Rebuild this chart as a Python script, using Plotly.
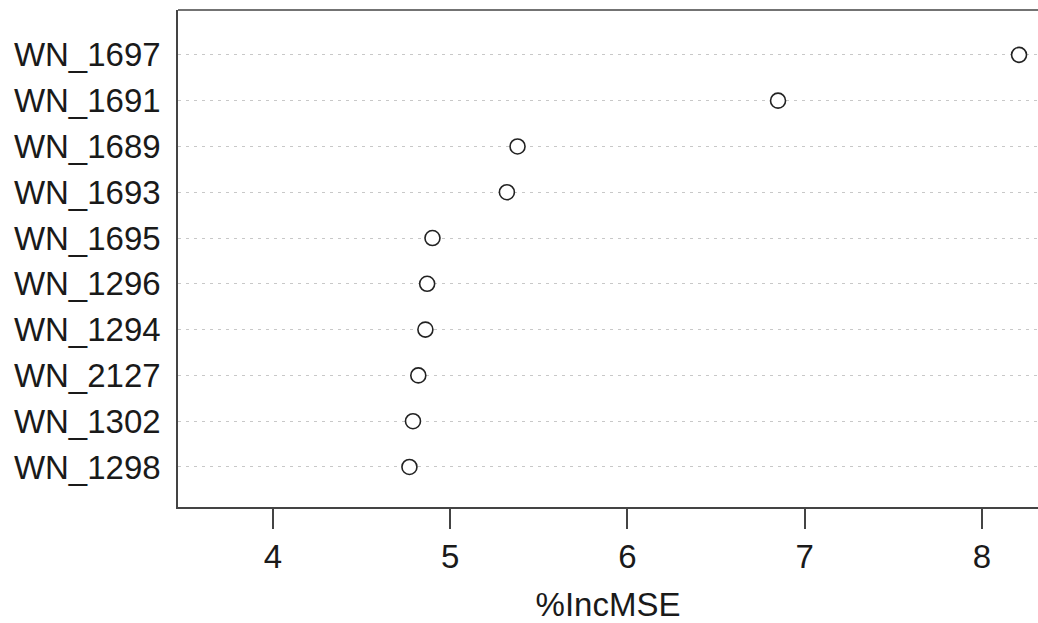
import plotly.graph_objects as go

# Data (top to bottom in the chart)
variables = ["WN_1697", "WN_1691", "WN_1689", "WN_1693", "WN_1695",
             "WN_1296", "WN_1294", "WN_2127", "WN_1302", "WN_1298"]
inc_mse = [8.21, 6.85, 5.38, 5.32, 4.90, 4.87, 4.86, 4.82, 4.79, 4.77]
x_ticks = [4, 5, 6, 7, 8]

n = len(variables)
# position 1 at bottom, n at top (R dotchart order)
ypos = [n - i for i in range(n)]

FONT = "Liberation Sans, Arial, sans-serif"
TXT = "#1a1a1a"
LINE = "#444444"

fig = go.Figure()
fig.add_trace(go.Scatter(
    x=inc_mse, y=ypos, mode="markers",
    marker=dict(symbol="circle", size=15, color="white",
                line=dict(color="#222222", width=1.6)),
    hoverinfo="x+text", text=variables, showlegend=False,
    cliponaxis=False,
))

fig.update_layout(
    width=1038, height=623,
    margin=dict(l=178, r=0, t=10, b=116),
    paper_bgcolor="white", plot_bgcolor="white",
    font=dict(family=FONT, size=33, color=TXT),
    xaxis=dict(
        range=[3.464, 8.317], tickvals=x_ticks, ticktext=[str(t) for t in x_ticks],
        ticks="outside", ticklen=20, tickwidth=1.5, tickcolor=LINE,
        showgrid=False, zeroline=False,
        showline=True, linecolor=LINE, linewidth=1.5,
        tickfont=dict(size=33, color=TXT),
        title=dict(text="%IncMSE", font=dict(size=33, color=TXT), standoff=21),
    ),
    yaxis=dict(
        range=[0.126, 10.98], tickvals=ypos, ticktext=variables,
        ticks="", showgrid=True, gridcolor="#c8c8c8", gridwidth=1,
        griddash="3px,5px", zeroline=False,
        showline=True, linecolor=LINE, linewidth=1.5,
        tickfont=dict(size=33, color=TXT), ticklabelstandoff=9,
    ),
)
# top border of the box (right edge is cropped in the reference)
fig.add_shape(type="line", xref="paper", yref="paper", x0=0, x1=1, y0=1, y1=1,
              line=dict(color=LINE, width=1.5))

fig.write_html(
    "out.html",
    config={"displayModeBar": False},
    post_script="document.body.style.margin='0';document.body.style.overflow='hidden';",
)
